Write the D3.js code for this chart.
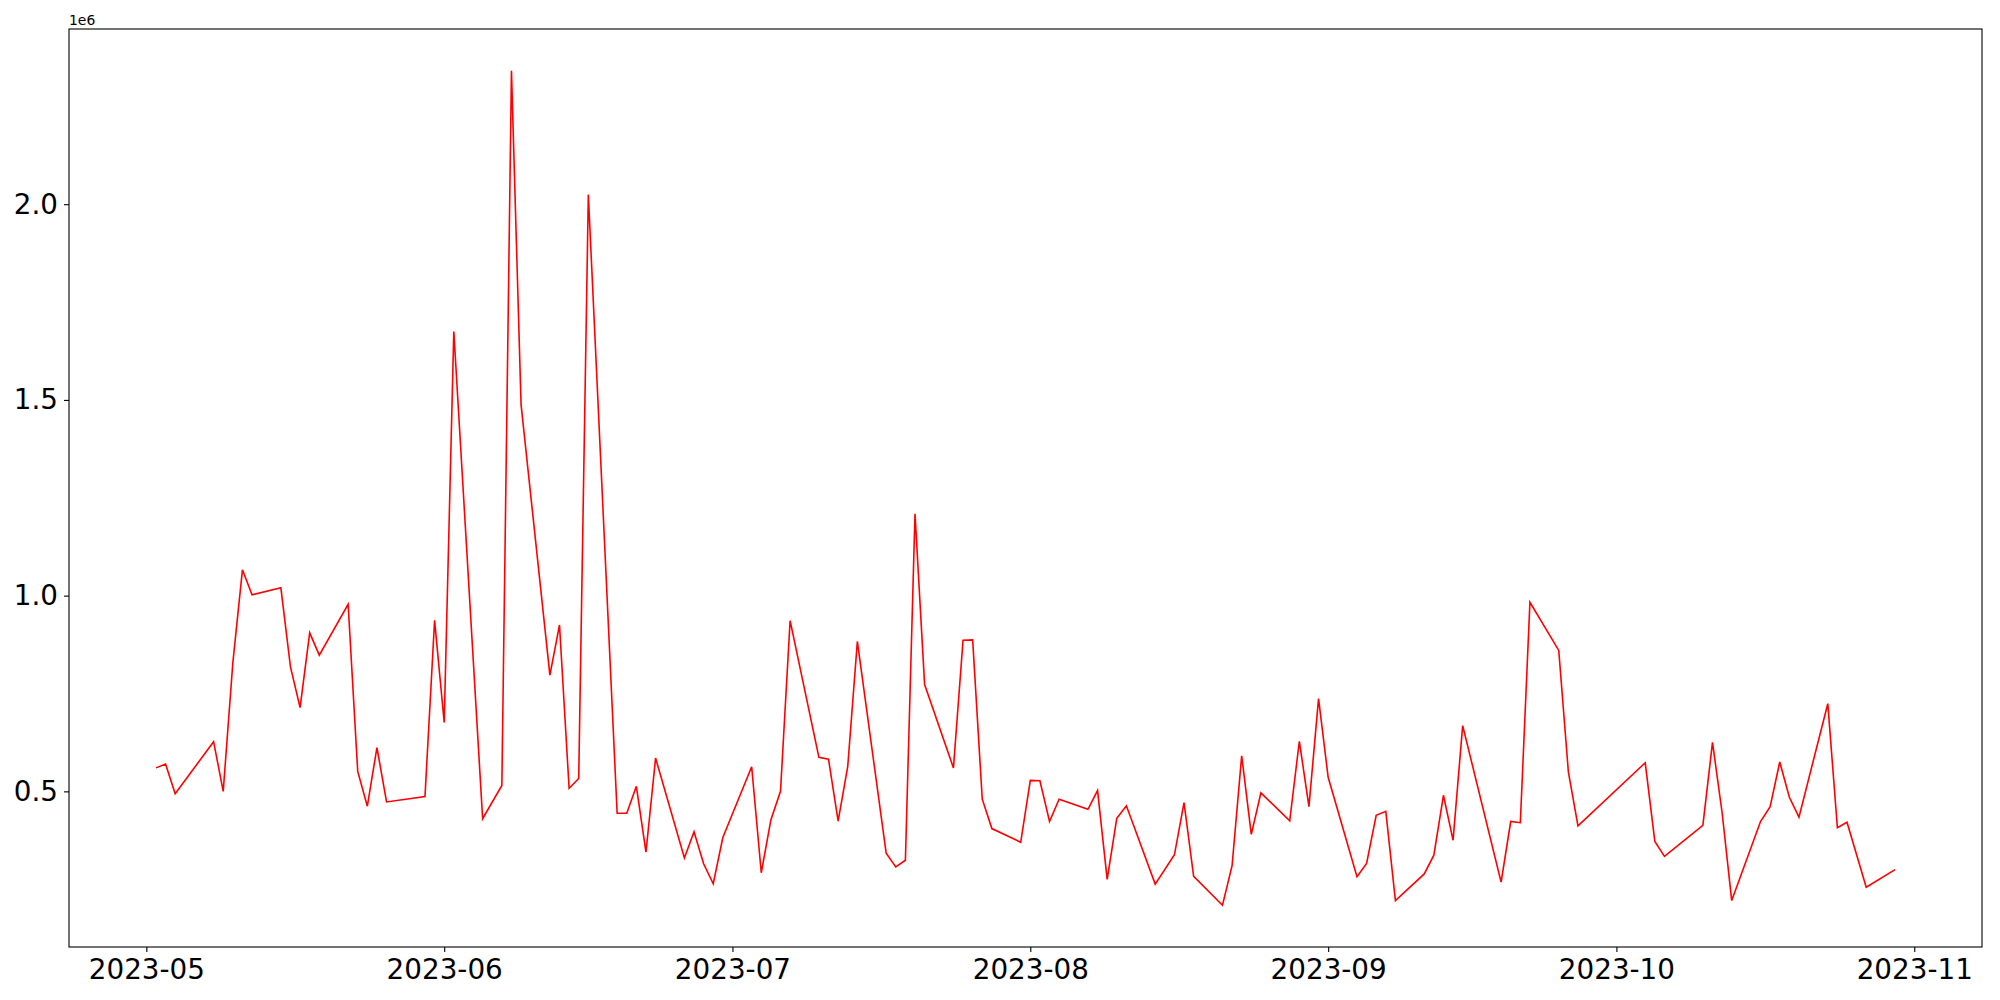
<!DOCTYPE html>
<html>
<head>
<meta charset="utf-8">
<script src="https://cdn.jsdelivr.net/npm/d3@7"></script>
<style>
  body { margin: 0; background: #fff; }
  text { font-family: 'DejaVu Sans', sans-serif; }
</style>
</head>
<body>
<svg width="2000" height="1000"></svg>
<script>
const svg = d3.select('svg');
const width = +svg.attr('width');
const height = +svg.attr('height');

// dates (one point per vertex)
const dates = [
    '2023-05-02','2023-05-03','2023-05-04','2023-05-08','2023-05-09','2023-05-10','2023-05-11','2023-05-12',
    '2023-05-15','2023-05-16','2023-05-17','2023-05-18','2023-05-19','2023-05-22','2023-05-23','2023-05-24',
    '2023-05-25','2023-05-26','2023-05-30','2023-05-31','2023-06-01','2023-06-02','2023-06-05','2023-06-07',
    '2023-06-08','2023-06-09','2023-06-12','2023-06-13','2023-06-14','2023-06-15','2023-06-16','2023-06-19',
    '2023-06-20','2023-06-21','2023-06-22','2023-06-23','2023-06-26','2023-06-27','2023-06-28','2023-06-29',
    '2023-06-30','2023-07-03','2023-07-04','2023-07-05','2023-07-06','2023-07-07','2023-07-10','2023-07-11',
    '2023-07-12','2023-07-13','2023-07-14','2023-07-17','2023-07-18','2023-07-19','2023-07-20','2023-07-21',
    '2023-07-24','2023-07-25','2023-07-26','2023-07-27','2023-07-28','2023-07-31','2023-08-01','2023-08-02',
    '2023-08-03','2023-08-04','2023-08-07','2023-08-08','2023-08-09','2023-08-10','2023-08-11','2023-08-14',
    '2023-08-16','2023-08-17','2023-08-18','2023-08-21','2023-08-22','2023-08-23','2023-08-24','2023-08-25',
    '2023-08-28','2023-08-29','2023-08-30','2023-08-31','2023-09-01','2023-09-04','2023-09-05','2023-09-06',
    '2023-09-07','2023-09-08','2023-09-11','2023-09-12','2023-09-13','2023-09-14','2023-09-15','2023-09-19',
    '2023-09-20','2023-09-21','2023-09-22','2023-09-25','2023-09-26','2023-09-27','2023-10-04','2023-10-05',
    '2023-10-06','2023-10-10','2023-10-11','2023-10-12','2023-10-13','2023-10-16','2023-10-17','2023-10-18',
    '2023-10-19','2023-10-20','2023-10-23','2023-10-24','2023-10-25','2023-10-27','2023-10-30'
];

const values = [
    560000, 570000, 494000, 627000, 500000, 828000, 1066000, 1002000,
    1020000, 818000, 714000, 905000, 848000, 978000, 551000, 462000,
    612000, 473000, 487000, 937000, 676000, 1675000, 430000, 515000,
    2341000, 1488000, 797000, 925000, 508000, 533000, 2025000, 444000,
    444000, 513000, 345000, 585000, 330000, 397000, 315000, 264000,
    382000, 563000, 292000, 427000, 500000, 936000, 587000, 582000,
    424000, 564000, 883000, 342000, 307000, 324000, 1209000, 773000,
    560000, 886000, 887000, 480000, 405000, 370000, 528000, 527000,
    423000, 480000, 454000, 502000, 275000, 431000, 463000, 263000,
    338000, 471000, 283000, 209000, 310000, 591000, 390000, 496000,
    425000, 628000, 461000, 737000, 536000, 282000, 316000, 439000,
    449000, 221000, 289000, 337000, 490000, 375000, 668000, 268000,
    423000, 420000, 983000, 860000, 550000, 412000, 573000, 372000,
    334000, 413000, 625000, 446000, 221000, 423000, 461000, 575000,
    485000, 434000, 724000, 407000, 421000, 255000, 300000
];

const yTicks = [500000, 1000000, 1500000, 2000000];

const parseDate = d3.utcParse('%Y-%m-%d');
const data = dates.map((d, i) => ({ date: parseDate(d), value: values[i] }));

const render = data => {

    const margin = { top: 29, right: 18, bottom: 53, left: 69 };
    const innerWidth = width - margin.left - margin.right;
    const innerHeight = height - margin.top - margin.bottom;

    const g = svg.append('g')
        .attr('transform', `translate(${margin.left}, ${margin.top})`);

    // 5% padding on both axes, like matplotlib autoscale
    const xExt = d3.extent(data, d => d.date);
    const xPad = (xExt[1] - xExt[0]) * 0.05;
    const x = d3.scaleUtc()
        .domain([new Date(+xExt[0] - xPad), new Date(+xExt[1] + xPad)])
        .range([0, innerWidth]);

    const yExt = d3.extent(data, d => d.value);
    const yPad = (yExt[1] - yExt[0]) * 0.05;
    const y = d3.scaleLinear()
        .domain([yExt[0] - yPad, yExt[1] + yPad])
        .range([innerHeight, 0]);

    // x axis
    const xAxisG = g.append('g')
        .attr('transform', `translate(0, ${innerHeight})`)
        .call(d3.axisBottom(x)
            .ticks(d3.utcMonth.every(1))
            .tickFormat(d3.utcFormat('%Y-%m'))
            .tickSize(5)
            .tickPadding(7));

    // y axis
    const yAxisG = g.append('g')
        .call(d3.axisLeft(y)
            .tickValues(yTicks)
            .tickFormat(d => (d / 1e6).toFixed(1))
            .tickSize(5)
            .tickPadding(6));

    [xAxisG, yAxisG].forEach(a => {
        a.select('.domain').remove();
        a.selectAll('line').attr('stroke', '#000').attr('stroke-width', 1.1);
        a.selectAll('text')
            .attr('fill', '#000')
            .attr('font-size', 27.8)
            .attr('font-family', "'DejaVu Sans', sans-serif");
    });

    // line
    const line = d3.line()
        .x(d => x(d.date))
        .y(d => y(d.value));

    g.append('path')
        .datum(data)
        .attr('d', line)
        .attr('fill', 'none')
        .attr('stroke', 'red')
        .attr('stroke-width', 1.6)
        .attr('stroke-linejoin', 'miter');

    // frame
    g.append('rect')
        .attr('width', innerWidth)
        .attr('height', innerHeight)
        .attr('fill', 'none')
        .attr('stroke', '#000')
        .attr('stroke-width', 1.1);

    // offset text
    g.append('text')
        .attr('x', 0)
        .attr('y', -4)
        .attr('font-size', 13.9)
        .attr('fill', '#000')
        .text('1e6');
};

render(data);
</script>
</body>
</html>
